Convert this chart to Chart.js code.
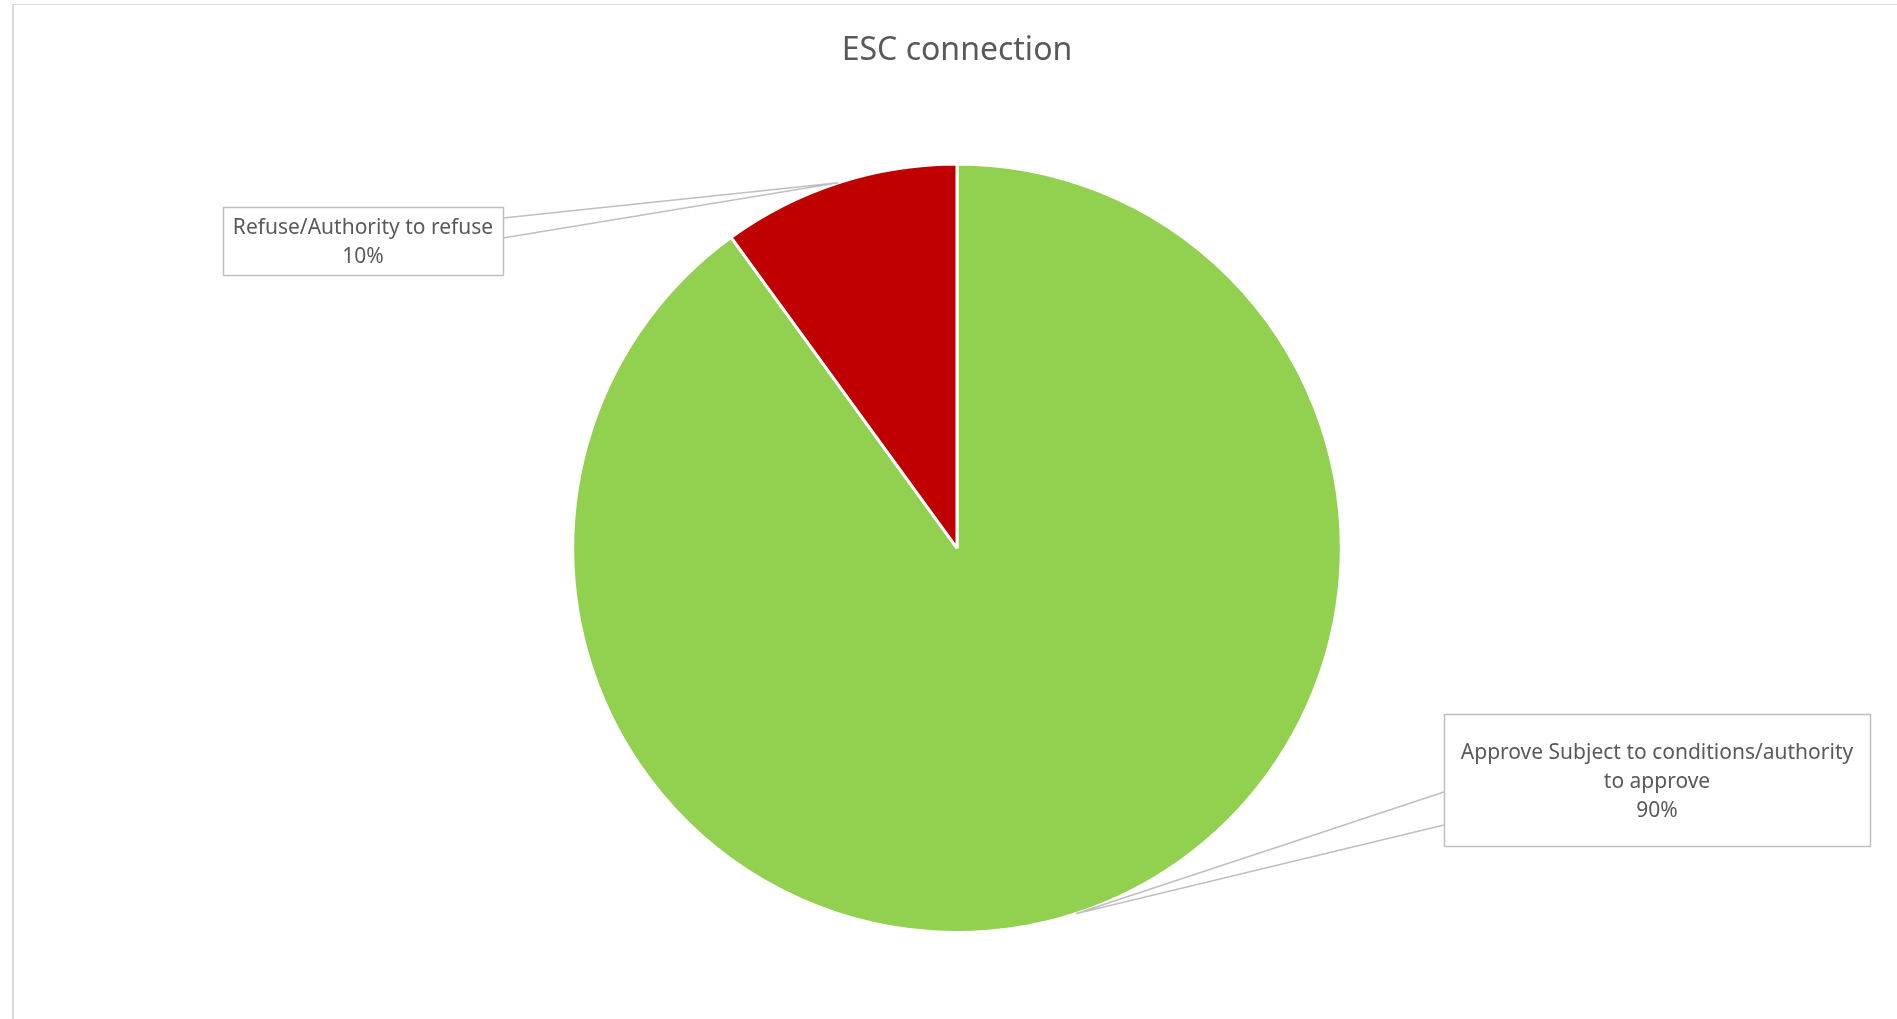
<!DOCTYPE html>
<html>
<head>
<meta charset="utf-8">
<title>ESC connection</title>
<script src="https://cdn.jsdelivr.net/npm/chart.js@4.4.0/dist/chart.umd.min.js"></script>
<style>
  body { margin: 0; background: #fff; overflow: hidden; }
  #frame { position: absolute; left: 12px; top: 4px; width: 2000px; height: 2000px;
           border-left: 2px solid #d9d9d9; border-top: 1px solid #d9d9d9; }
  #wrap { position: absolute; left: 0; top: 0; width: 1897px; height: 1019px; }
</style>
</head>
<body>
<div id="frame"></div>
<div id="wrap"><canvas id="myChart"></canvas></div>
<script>
'use strict';

// chart data
var categories = ['Approve Subject to conditions/authority to approve', 'Refuse/Authority to refuse'];
var shareValues = [90, 10];
var sliceColors = ['#92D050', '#C00000'];

// where the callout boxes sit, and where the two leader lines leave the box
var calloutBoxes = [
  { x: 1444, y: 714, w: 426, h: 132, edge: 'left', anchors: [78, 111] },
  { x: 223, y: 207, w: 280, h: 68, edge: 'right', anchors: [11, 31] }
];

var labelFont = '21px "Noto Sans"';
var textColor = '#595959';
var lineColor = '#bfbfbf';

function wrapText(ctx, text, maxWidth) {
  var words = text.split(' ');
  var lines = [];
  var cur = '';
  for (var i = 0; i < words.length; i++) {
    var test = cur ? cur + ' ' + words[i] : words[i];
    if (cur && ctx.measureText(test).width > maxWidth) {
      lines.push(cur);
      cur = words[i];
    } else {
      cur = test;
    }
  }
  if (cur) lines.push(cur);
  return lines;
}

// draws excel-ish callouts pointing at the middle of each slice edge
var calloutPlugin = {
  id: 'callouts',
  afterDatasetsDraw: function(chart) {
    var ctx = chart.ctx;
    var meta = chart.getDatasetMeta(0);
    var total = shareValues.reduce(function(a, b) { return a + b; }, 0);
    ctx.save();
    ctx.font = labelFont;
    meta.data.forEach(function(arc, i) {
      var p = arc.getProps(['x', 'y', 'startAngle', 'endAngle', 'outerRadius'], true);
      var mid = (p.startAngle + p.endAngle) / 2;
      var tipX = p.x + Math.cos(mid) * p.outerRadius;
      var tipY = p.y + Math.sin(mid) * p.outerRadius;
      var box = calloutBoxes[i];
      var ex = box.edge === 'left' ? box.x : box.x + box.w;

      // leader lines
      ctx.strokeStyle = lineColor;
      ctx.lineWidth = 1.5;
      ctx.beginPath();
      ctx.moveTo(ex, box.y + box.anchors[0]);
      ctx.lineTo(tipX, tipY);
      ctx.lineTo(ex, box.y + box.anchors[1]);
      ctx.stroke();

      // box
      ctx.fillStyle = '#fff';
      ctx.fillRect(box.x, box.y, box.w, box.h);
      ctx.strokeRect(box.x + 0.5, box.y + 0.5, box.w, box.h);

      // text
      var lines = wrapText(ctx, categories[i], box.w - 16);
      lines.push(Math.round(shareValues[i] / total * 100) + '%');
      var lh = 29;
      var cy = box.y + box.h / 2 - (lines.length - 1) * lh / 2 + 2;
      ctx.fillStyle = textColor;
      ctx.textAlign = 'center';
      ctx.textBaseline = 'middle';
      for (var j = 0; j < lines.length; j++) {
        ctx.fillText(lines[j], box.x + box.w / 2, cy + j * lh);
      }
    });
    ctx.restore();
  }
};

function makeChart() {
  var ctx = document.getElementById('myChart').getContext('2d');
  var chart = new Chart(ctx, {
    type: 'pie',
    data: {
      labels: categories,
      datasets: [{
        data: shareValues,
        backgroundColor: sliceColors,
        borderColor: '#ffffff',
        borderWidth: 3,
        hoverOffset: 0
      }]
    },
    options: {
      responsive: true,
      maintainAspectRatio: false,
      animation: false,
      layout: { padding: { top: 0, bottom: 85, left: 417, right: 400 } },
      plugins: {
        legend: { display: false },
        tooltip: { enabled: false },
        title: {
          display: true,
          text: 'ESC connection',
          color: textColor,
          font: { family: '"Noto Sans"', size: 32, weight: 'normal' },
          padding: { top: 32, bottom: 92 }
        }
      }
    },
    plugins: [calloutPlugin]
  });
}

makeChart();
</script>
</body>
</html>
